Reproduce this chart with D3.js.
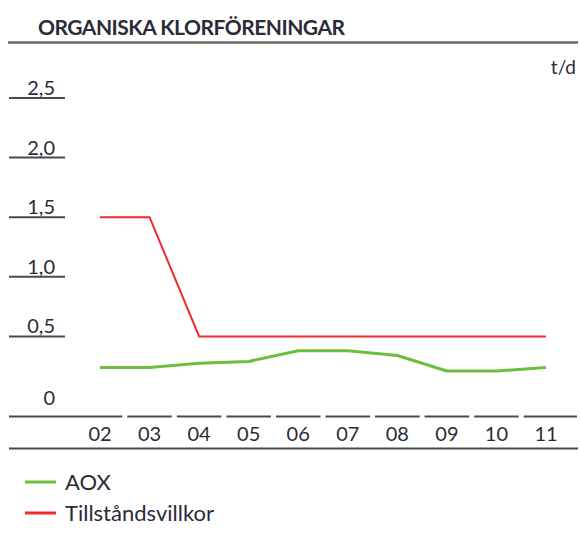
<!DOCTYPE html>
<html>
<head>
<meta charset="utf-8">
<script src="https://cdn.jsdelivr.net/npm/d3@7"></script>
<style>
  body { margin: 0; background: #fff; }
  text { font-family: Lato, "Open Sans", sans-serif; fill: #2b2b38; }
</style>
</head>
<body>
<svg id="chart" width="580" height="540"></svg>
<script>
// data
const years = ["02", "03", "04", "05", "06", "07", "08", "09", "10", "11"];
const aox = [0.24, 0.24, 0.275, 0.29, 0.38, 0.38, 0.34, 0.21, 0.21, 0.24];
const villkor = [1.5, 1.5, 0.5, 0.5, 0.5, 0.5, 0.5, 0.5, 0.5, 0.5];
const yTicks = [0, 0.5, 1.0, 1.5, 2.0, 2.5];
const seriesNames = ["AOX", "Tillståndsvillkor"];
const seriesColors = ["#6cbf3c", "#ee2b2e"];

const svg = d3.select("#chart");

// title + rule
svg.append("text")
  .attr("x", 38).attr("y", 35)
  .attr("font-size", 21).attr("font-weight", 700)
  .attr("letter-spacing", -0.5)
  .text("ORGANISKA KLORFÖRENINGAR");
svg.append("line")
  .attr("x1", 8).attr("x2", 578).attr("y1", 42.5).attr("y2", 42.5)
  .attr("stroke", "#6b6b6b").attr("stroke-width", 2.5);

svg.append("text")
  .attr("x", 576).attr("y", 74)
  .attr("text-anchor", "end").attr("font-size", 19)
  .text("t/d");

const x = d3.scalePoint().domain(years).range([100, 546]);
const y = d3.scaleLinear().domain([0, 2.5]).range([396, 98]);
const step = x.step();

// y ticks: label above a short underline, zero has none
const yAxis = svg.append("g");
yAxis.selectAll("line")
  .data(yTicks.filter(d => d > 0))
  .join("line")
  .attr("x1", 9).attr("x2", 65)
  .attr("y1", d => y(d)).attr("y2", d => y(d))
  .attr("stroke", "#4a4a4a").attr("stroke-width", 2);
yAxis.selectAll("text")
  .data(yTicks)
  .join("text")
  .attr("x", 55)
  .attr("y", d => d === 0 ? y(d) + 9 : y(d) - 3)
  .attr("text-anchor", "end").attr("font-size", 20)
  .text(d => d === 0 ? "0" : d3.format(".1f")(d).replace(".", ","));

// x axis: segmented line under each category
const axisY = y(0) + 20.5;
svg.append("g").selectAll("line")
  .data(years)
  .join("line")
  .attr("x1", (d, i) => i === 0 ? 9 : x(d) - step / 2 + 2.5)
  .attr("x2", (d, i) => i === years.length - 1 ? 577 : x(d) + step / 2 - 2.5)
  .attr("y1", axisY).attr("y2", axisY)
  .attr("stroke", "#4a4a4a").attr("stroke-width", 2);
svg.append("g").selectAll("text")
  .data(years)
  .join("text")
  .attr("x", d => x(d))
  .attr("y", axisY + 24)
  .attr("text-anchor", "middle").attr("font-size", 20)
  .text(d => d);
svg.append("line")
  .attr("x1", 9).attr("x2", 578).attr("y1", axisY + 32).attr("y2", axisY + 32)
  .attr("stroke", "#4a4a4a").attr("stroke-width", 2);

// lines
const line = d3.line().x((d, i) => x(years[i])).y(d => y(d));

svg.append("path")
  .attr("d", line(villkor))
  .attr("fill", "none").attr("stroke", seriesColors[1]).attr("stroke-width", 2);
svg.append("path")
  .attr("d", line(aox))
  .attr("fill", "none").attr("stroke", seriesColors[0]).attr("stroke-width", 3)
  .attr("stroke-linejoin", "round");

// legend
const legend = svg.append("g").selectAll("g")
  .data(seriesNames)
  .join("g")
  .attr("transform", (d, i) => `translate(25, ${482 + i * 31})`);
legend.append("line")
  .attr("x1", 0).attr("x2", 31)
  .attr("stroke", (d, i) => seriesColors[i]).attr("stroke-width", 3);
legend.append("text")
  .attr("x", 40).attr("y", 8)
  .attr("font-size", 22)
  .text(d => d);
</script>
</body>
</html>
